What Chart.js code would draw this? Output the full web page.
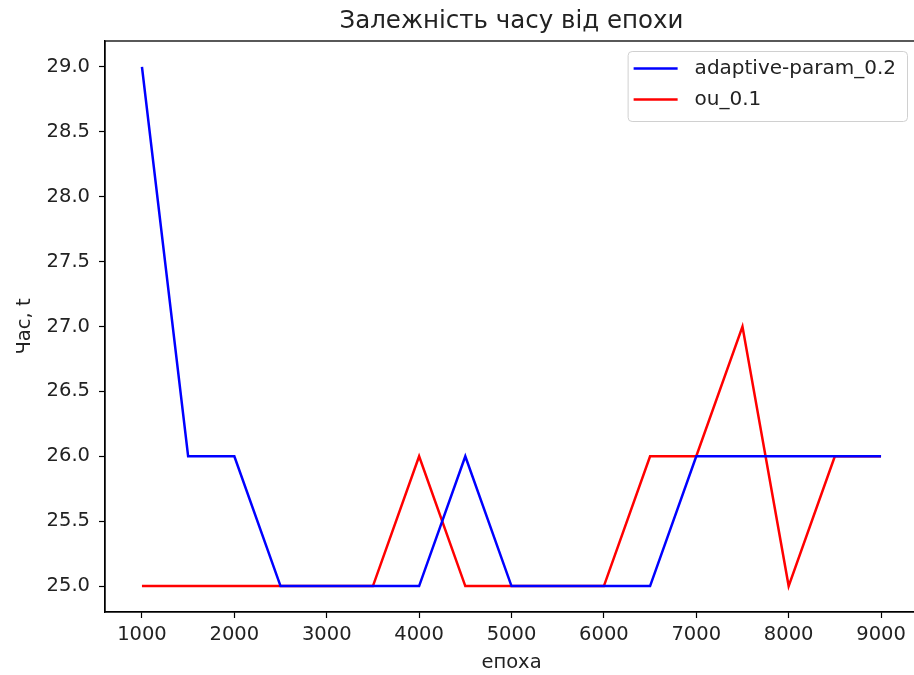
<!DOCTYPE html>
<html>
<head>
<meta charset="utf-8">
<script src="https://cdn.jsdelivr.net/npm/chart.js@4/dist/chart.umd.min.js"></script>
<style>
  html, body { margin: 0; padding: 0; background: #fff; overflow: hidden; }
  #wrap { width: 914px; height: 675px; overflow: hidden; position: relative; }
  #chart { position: absolute; left: 0; top: 0; }
</style>
</head>
<body>
<div id="wrap"><canvas id="chart" width="920" height="675"></canvas></div>
<script>
// Epochs on the x axis
const epochs = [1000, 1500, 2000, 2500, 3000, 3500, 4000, 4500, 5000, 5500, 6000, 6500, 7000, 7500, 8000, 8500, 9000];
// Time per epoch for each run
const adaptiveParam02 = [29, 26, 26, 25, 25, 25, 25, 26, 25, 25, 25, 25, 26, 26, 26, 26, 26];
const ou01 = [25, 25, 25, 25, 25, 25, 26, 25, 25, 25, 25, 26, 26, 27, 25, 26, 26];
// Tick labels
const xTicks = [1000, 2000, 3000, 4000, 5000, 6000, 7000, 8000, 9000];
const yTicks = [25.0, 25.5, 26.0, 26.5, 27.0, 27.5, 28.0, 28.5, 29.0];

const seriesNames = ['adaptive-param_0.2', 'ou_0.1'];
const titleText = 'Залежність часу від епохи';
const xLabel = 'епоха';
const yLabel = 'Час, t';

const FONT = "'DejaVu Sans', sans-serif";
const TICK_PX = 19.5;
const LEGEND_PX = 20;

const toPoints = (vals) => epochs.map((e, i) => ({ x: e, y: vals[i] }));

// Frame, title and in-plot legend drawn on top of the chart
const framePlugin = {
  id: 'frame',
  afterDraw(chart) {
    const { ctx, chartArea: ca } = chart;
    ctx.save();
    // full axes box
    ctx.strokeStyle = '#000';
    ctx.lineWidth = 1.3;
    ctx.strokeRect(ca.left, ca.top, ca.right - ca.left, ca.bottom - ca.top);

    // title centred over the plot area
    ctx.fillStyle = '#222';
    ctx.font = `24.5px ${FONT}`;
    ctx.textAlign = 'center';
    ctx.textBaseline = 'middle';
    ctx.fillText(titleText, (ca.left + ca.right) / 2, 22);

    // legend box, upper right
    ctx.font = `${LEGEND_PX}px ${FONT}`;
    const labels = chart.data.datasets.map(d => d.label);
    const textW = Math.max(...labels.map(l => ctx.measureText(l).width));
    const boxW = 67 + textW + 11;
    const boxH = 70;
    const bx = ca.right - 11 - boxW;
    const by = ca.top + 10;
    ctx.beginPath();
    ctx.roundRect(bx + 0.5, by + 0.5, boxW, boxH, 4);
    ctx.fillStyle = 'rgba(255,255,255,0.8)';
    ctx.fill();
    ctx.strokeStyle = '#d0d0d0';
    ctx.lineWidth = 1;
    ctx.stroke();
    chart.data.datasets.forEach((ds, i) => {
      const yy = by + 17.5 + i * 31;
      ctx.beginPath();
      ctx.moveTo(bx + 6, yy);
      ctx.lineTo(bx + 50, yy);
      ctx.strokeStyle = ds.borderColor;
      ctx.lineWidth = 2.5;
      ctx.stroke();
      ctx.fillStyle = '#222';
      ctx.textAlign = 'left';
      ctx.textBaseline = 'middle';
      ctx.fillText(ds.label, bx + 67, yy);
    });
    ctx.restore();
  }
};

new Chart(document.getElementById('chart'), {
  type: 'line',
  data: {
    datasets: [
      {
        label: seriesNames[0],
        data: toPoints(adaptiveParam02),
        borderColor: '#0000ff',
        backgroundColor: '#0000ff',
        borderWidth: 2.5,
        pointRadius: 0,
        tension: 0,
        fill: false
      },
      {
        label: seriesNames[1],
        data: toPoints(ou01),
        borderColor: '#ff0000',
        backgroundColor: '#ff0000',
        borderWidth: 2.5,
        pointRadius: 0,
        tension: 0,
        fill: false
      }
    ]
  },
  options: {
    responsive: false,
    animation: false,
    layout: { padding: { top: 41, right: 2, left: 0, bottom: 0 } },
    plugins: {
      legend: { display: false },
      title: { display: false },
      tooltip: { enabled: false }
    },
    scales: {
      x: {
        type: 'linear',
        min: 600,
        max: 9400,
        afterBuildTicks: (s) => { s.ticks = xTicks.map(v => ({ value: v })); },
        afterFit: (s) => { s.height = 63; },
        ticks: {
          autoSkip: false,
          maxRotation: 0,
          padding: 5,
          color: '#222',
          font: { family: FONT, size: TICK_PX },
          callback: (v) => String(v)
        },
        grid: {
          drawOnChartArea: false,
          drawTicks: true,
          tickLength: 6,
          tickColor: '#000',
          tickWidth: 1.2
        },
        border: { display: true, color: '#000', width: 1.3 },
        title: {
          display: true,
          text: xLabel,
          color: '#222',
          font: { family: FONT, size: TICK_PX },
          padding: { top: 0, bottom: 0 }
        }
      },
      y: {
        type: 'linear',
        min: 24.8,
        max: 29.2,
        afterBuildTicks: (s) => { s.ticks = yTicks.map(v => ({ value: v })); },
        afterFit: (s) => { s.width = 105; },
        ticks: {
          autoSkip: false,
          padding: 9,
          color: '#222',
          font: { family: FONT, size: TICK_PX },
          callback: (v) => Number(v).toFixed(1)
        },
        grid: {
          drawOnChartArea: false,
          drawTicks: true,
          tickLength: 6,
          tickColor: '#000',
          tickWidth: 1.2
        },
        border: { display: true, color: '#000', width: 1.3 },
        title: {
          display: true,
          text: yLabel,
          color: '#222',
          font: { family: FONT, size: TICK_PX },
          padding: { top: 13, bottom: 0 }
        }
      }
    }
  },
  plugins: [framePlugin]
});
</script>
</body>
</html>
